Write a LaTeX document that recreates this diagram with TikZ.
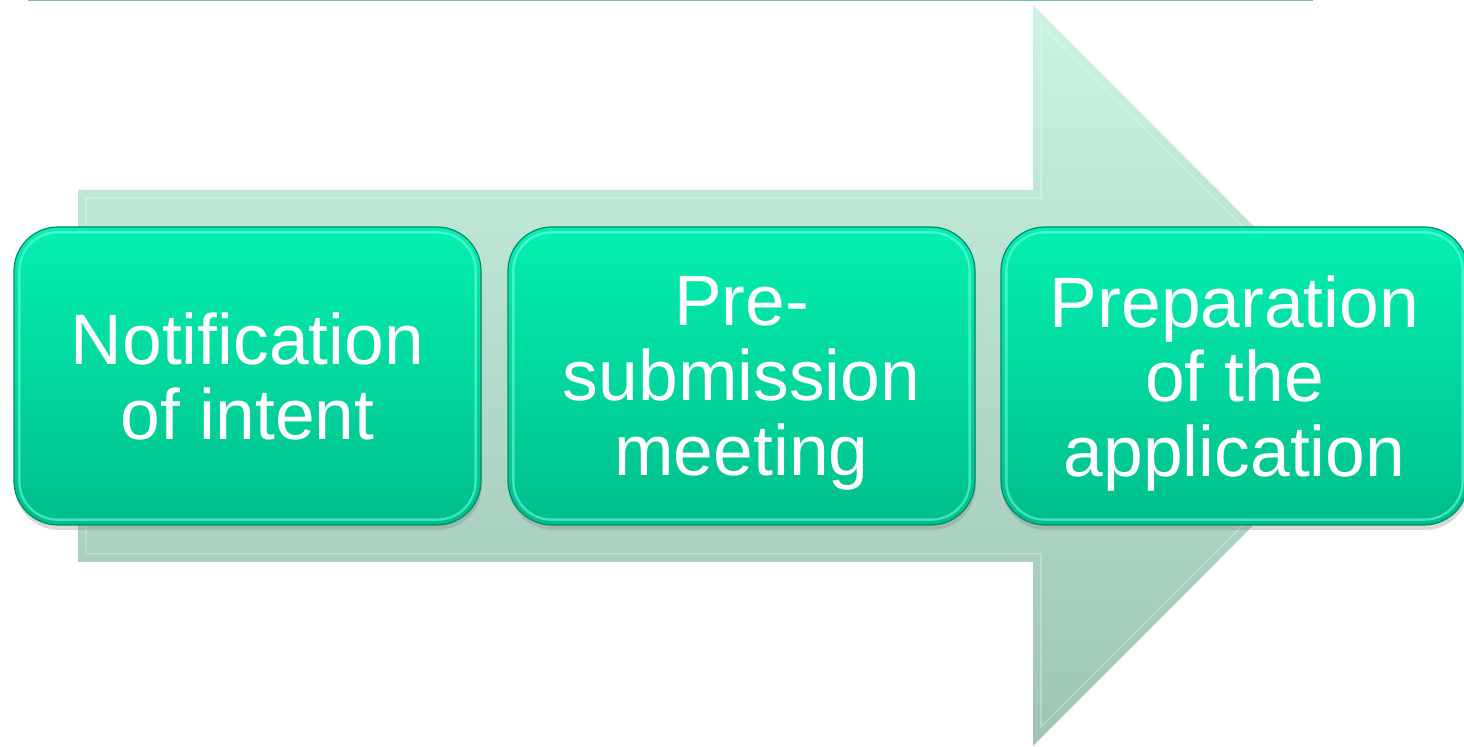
\documentclass[tikz,border=0pt]{standalone}
\usepackage{fontspec}
\setmainfont{Liberation Sans}
\usetikzlibrary{shadows}

\definecolor{ruleline}{RGB}{112,196,154}
\definecolor{arrowtop}{RGB}{202,243,225}
\definecolor{arrowbot}{RGB}{158,196,180}
\definecolor{stagetop}{RGB}{4,240,176}
\definecolor{stagebot}{RGB}{0,190,140}
\definecolor{stageedge}{RGB}{0,140,105}
\definecolor{stagerim}{RGB}{120,255,232}

\tikzset{
  stage/.style={rectangle, rounded corners=22pt, minimum width=233.5pt, minimum height=149pt,
    inner sep=0pt, top color=stagetop, bottom color=stagebot, draw=stageedge, line width=0.6pt,
    text=white, align=center, text depth=0pt, font=\fontsize{35.7}{37.3}\selectfont,
    drop shadow={shadow xshift=0.5pt, shadow yshift=-2.5pt, opacity=0.3}},
  rim/.style={rounded corners=19pt, draw=stagerim, line width=1.2pt, opacity=0.55}
}

\begin{document}
\begin{tikzpicture}[x=0.5pt, y=-0.5pt]
        \useasboundingbox (0, 0) rectangle (1464, 747);
        \draw[ruleline, line width=1pt] (28, 0.5) -- (1313, 0.5);
        % big arrow behind the boxes
        \shade[top color=arrowtop, bottom color=arrowbot]
            (78, 190) -- (1033, 190) -- (1033, 5) -- (1403, 375.5) -- (1033, 746)
            -- (1033, 562) -- (78, 562) -- cycle;
        \draw[white, opacity=0.25, line width=0.8pt]
            (86, 198) -- (1041, 198) -- (1041, 24) -- (1392, 375.5) -- (1041, 727)
            -- (1041, 554) -- (86, 554) -- cycle;
        % the three stages
        \node[stage] (notif) at (247.5, 376) {Notification\\of intent};
        \node[stage] (meet) at (741.5, 376) {Pre-\\submission\\meeting};
        \node[stage] (prep) at (1234.5, 376) {Preparation\\of the\\application};
        \draw[rim] ([shift={(3pt,-3pt)}]notif.north west) rectangle ([shift={(-3pt,3pt)}]notif.south east);
        \draw[rim] ([shift={(3pt,-3pt)}]meet.north west) rectangle ([shift={(-3pt,3pt)}]meet.south east);
        \draw[rim] ([shift={(3pt,-3pt)}]prep.north west) rectangle ([shift={(-3pt,3pt)}]prep.south east);
    \end{tikzpicture}
\end{document}
